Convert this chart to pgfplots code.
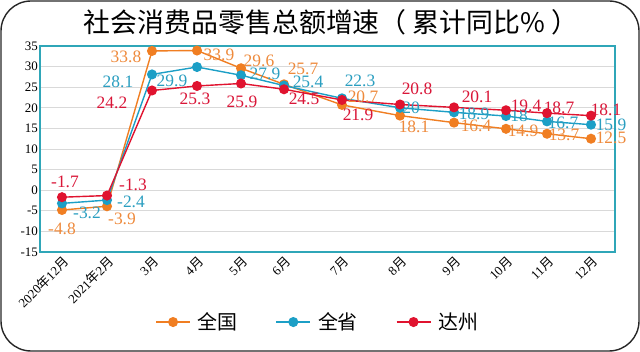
\documentclass[border=0pt]{standalone}
\usepackage{pgfplots}
\usepackage{pgfplotstable}
\pgfplotsset{compat=1.18}
\usepackage{fontspec}
\setmainfont{Liberation Serif}
\newfontfamily\cjk{Noto Sans CJK SC}
\definecolor{ora}{HTML}{F07E22}
\definecolor{blu}{HTML}{1C9FC6}
\definecolor{red1}{HTML}{E0132F}
\definecolor{orat}{HTML}{EE8A3C}
\definecolor{blut}{HTML}{2A9EC0}
\definecolor{redt}{HTML}{D91638}
\definecolor{frame}{HTML}{2FA6B8}

\pgfplotstableread{
x y lab dx dy
62 -4.8 -4.8 0 -19
107 -3.9 -3.9 15 -13
152 33.8 33.8 -26 -6
197 33.9 33.9 22 -4
241 29.6 29.6 18 7
284 25.7 25.7 19 15
342 20.7 20.7 21 8
400 18.1 18.1 14 -11
454 16.4 16.4 22 -3
506 14.9 14.9 17 -2
547 13.7 13.7 17 -1
591 12.5 12.5 20 1
}\quanguo
\pgfplotstableread{
x y lab dx dy
62 -3.2 -3.2 25 -9
107 -2.4 -2.4 24 -2
152 28.1 28.1 -34 -7
197 29.9 29.9 -25 -14
241 27.9 27.9 24 1
284 25.4 25.4 24 4
342 22.3 22.3 18 17
400 20 20 11 0
454 18.9 18.9 20 -1
506 18 18 13 0
547 16.7 16.7 16 -1
591 15.9 15.9 20 0
}\quansheng
\pgfplotstableread{
x y lab dx dy
62 -1.7 -1.7 3 15
107 -1.3 -1.3 26 11
152 24.2 24.2 -40 -12
197 25.3 25.3 -2 -13
241 25.9 25.9 1 -18
284 24.5 24.5 20 -10
342 21.9 21.9 16 -15
400 20.8 20.8 17 16
454 20.1 20.1 23 11
506 19.4 19.4 20 4
547 18.7 18.7 12 5
591 18.1 18.1 15 6
}\dazhou

\begin{document}
\begin{tikzpicture}
\useasboundingbox (0,0) rectangle (640bp,352bp);
\draw[line width=1.4bp, black!85, rounded corners=30bp] (1bp,1bp) rectangle (639bp,351bp);
\node[font=\cjk\fontsize{27}{27}\selectfont] at (331bp,330bp) {社会消费品零售总额增速（ 累计同比\% ）};
\begin{axis}[
  at={(40bp,100bp)}, anchor=south west,
  scale only axis, width=575bp, height=206bp,
  xmin=40, xmax=615, ymin=-15, ymax=35,
  ytick={-15,-10,...,35},
  xtick={62,107,152,197,241,284,342,400,454,506,547,591},
  xticklabels={2020{\cjk 年}12{\cjk 月},2021{\cjk 年}2{\cjk 月},3{\cjk 月},4{\cjk 月},5{\cjk 月},6{\cjk 月},7{\cjk 月},8{\cjk 月},9{\cjk 月},10{\cjk 月},11{\cjk 月},12{\cjk 月}},
  x tick label style={rotate=45, anchor=north east, font=\fontsize{13}{13}\selectfont, inner sep=2bp},
  y tick label style={font=\fontsize{13}{13}\selectfont, inner sep=2bp},
  /pgf/number format/assume math mode=true,
  major tick length=0pt,
  ymajorgrids, grid style={draw=black!15, line width=0.8bp},
  axis line style={draw=frame, line width=1.3bp},
  clip=false,
  every axis plot/.append style={line width=1.4bp, mark=*, mark size=4.3bp},
  nodes near coords, point meta=explicit symbolic,
  visualization depends on={\thisrow{dx} \as \dx},
  visualization depends on={\thisrow{dy} \as \dy},
  every node near coord/.append style={anchor=center, xshift=\dx bp, yshift=\dy bp, font=\fontsize{17.5}{17.5}\selectfont, inner sep=0pt},
  legend columns=3,
  legend style={at={(0.483,-0.34)}, anchor=center, draw=none, fill=none,
    font=\cjk\fontsize{20}{20}\selectfont,
    /tikz/every even column/.append style={column sep=36bp},
    /tikz/every odd column/.append style={column sep=5bp}},
  legend image code/.code={\draw[mark repeat=2,mark phase=2,#1] plot coordinates {(0bp,0bp) (17bp,0bp) (34bp,0bp)};},
]
\addplot[color=ora, mark options={fill=ora, draw=ora}, nodes near coords style={text=orat}] table[x=x,y=y,meta=lab] {\quanguo};
\addlegendentry{全国}
\addplot[color=blu, mark options={fill=blu, draw=blu}, nodes near coords style={text=blut}] table[x=x,y=y,meta=lab] {\quansheng};
\addlegendentry{全省}
\addplot[color=red1, mark options={fill=red1, draw=red1}, nodes near coords style={text=redt}] table[x=x,y=y,meta=lab] {\dazhou};
\addlegendentry{达州}
\end{axis}
\end{tikzpicture}
\end{document}
